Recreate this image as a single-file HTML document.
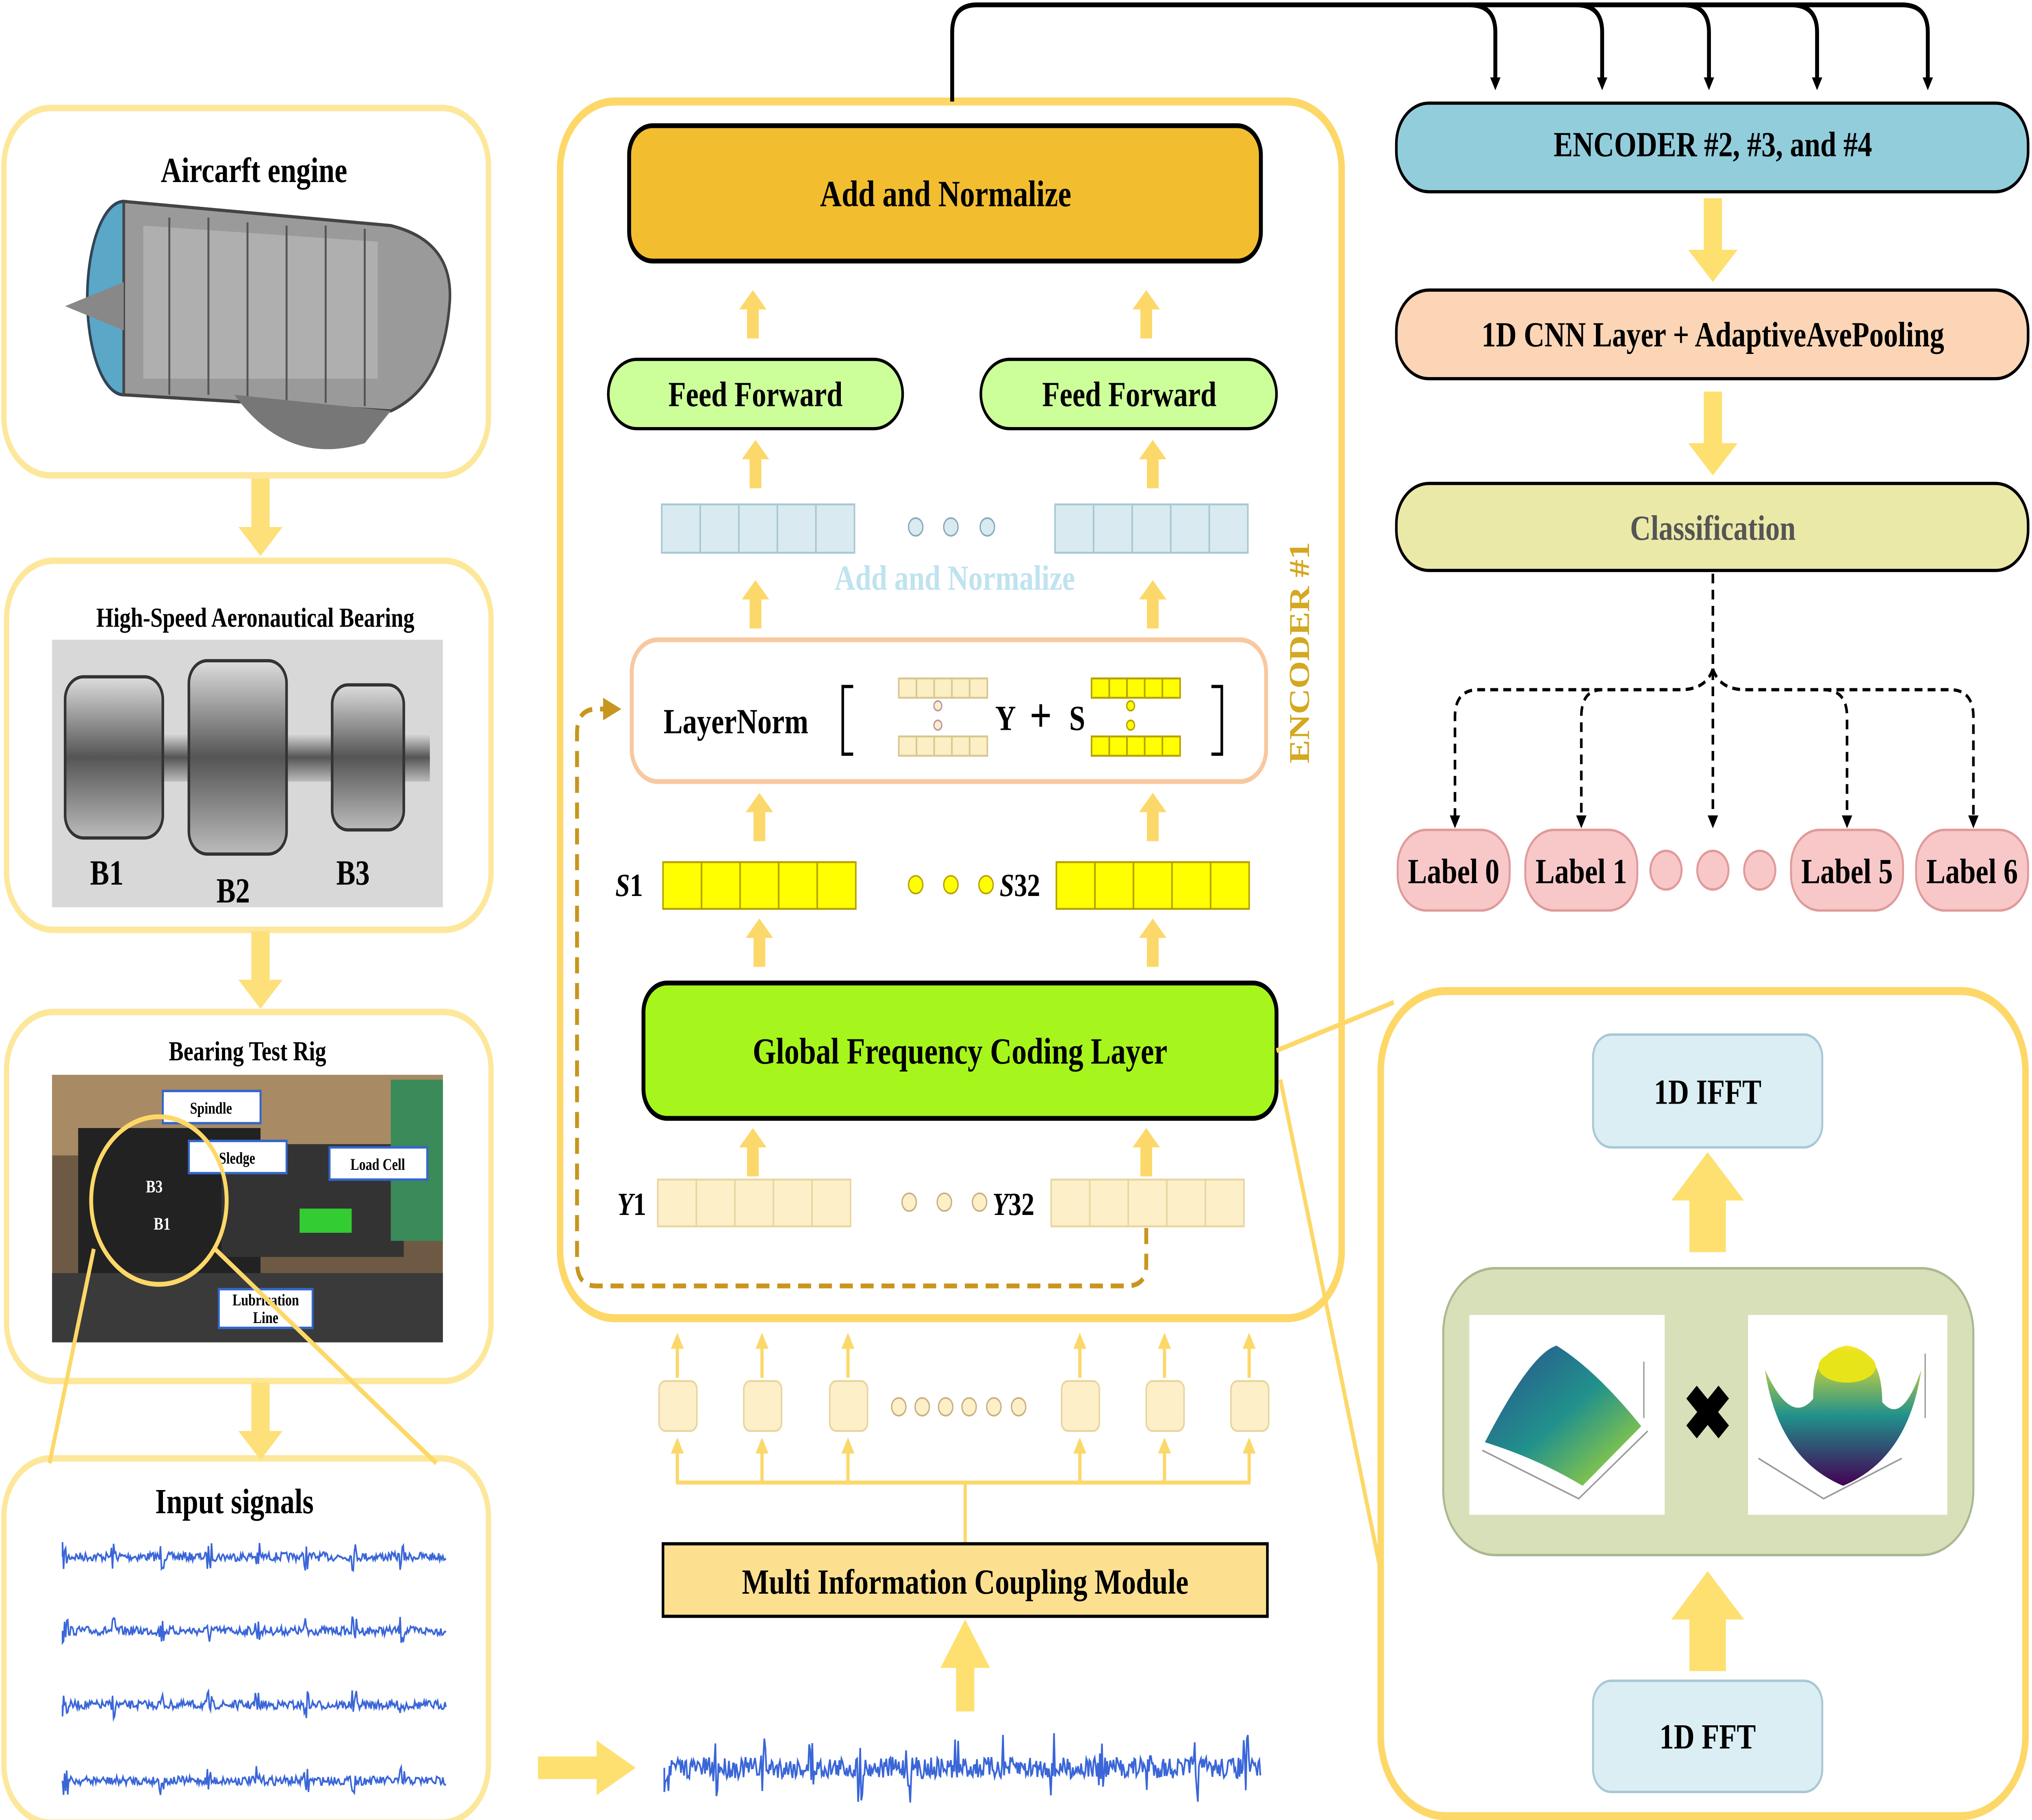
<!DOCTYPE html>
<html><head><meta charset="utf-8">
<style>
html,body{margin:0;padding:0;background:#fff;width:100%;height:100%;overflow:hidden;}
svg{display:block;width:100vw;height:100vh;}
text{font-family:"Liberation Serif",serif;font-weight:bold;}
</style></head>
<body>
<svg id="s" xmlns="http://www.w3.org/2000/svg" viewBox="0 0 1560 1129.4" preserveAspectRatio="none">
<defs>
<marker id="ab" markerWidth="8" markerHeight="8" refX="4" refY="4" orient="auto" markerUnits="userSpaceOnUse" viewBox="0 0 8 8"><path d="M0,0 L8,4 L0,8 Z" fill="#000"/></marker>
<marker id="ay" markerWidth="10" markerHeight="10" refX="5" refY="5" orient="auto" markerUnits="userSpaceOnUse" viewBox="0 0 10 10"><path d="M0,0 L10,5 L0,10 Z" fill="#fcd86a"/></marker>
<marker id="ad" markerWidth="14" markerHeight="14" refX="7" refY="7" orient="auto" markerUnits="userSpaceOnUse" viewBox="0 0 14 14"><path d="M0,0 L14,7 L0,14 Z" fill="#c8961e"/></marker>
<linearGradient id="met" x1="0" y1="0" x2="0" y2="1"><stop offset="0" stop-color="#ddd"/><stop offset="0.5" stop-color="#555"/><stop offset="1" stop-color="#bbb"/></linearGradient>
<linearGradient id="sf1" x1="0" y1="0" x2="1" y2="1"><stop offset="0" stop-color="#2a4f8e"/><stop offset="0.5" stop-color="#21918c"/><stop offset="1" stop-color="#b5de2b"/></linearGradient>
<linearGradient id="sf2" x1="0" y1="0" x2="0" y2="1"><stop offset="0" stop-color="#fde725"/><stop offset="0.5" stop-color="#21918c"/><stop offset="1" stop-color="#440154"/></linearGradient>
</defs>

<!-- LEFT COLUMN -->
<g fill="#fff" stroke="#fde79a" stroke-width="4">
<rect x="3" y="67" width="372" height="228" rx="36"/>
<rect x="5" y="348" width="372" height="229" rx="36"/>
<rect x="5" y="628" width="372" height="229" rx="36"/>
<rect x="3" y="905" width="372" height="226" rx="36"/>
</g>
<g fill="#fde07a">
<path d="M193,297 h14 v30 h10 l-17,18 l-17,-18 h10 Z"/>
<path d="M193,578 h14 v30 h10 l-17,18 l-17,-18 h10 Z"/>
<path d="M193,858 h14 v30 h10 l-17,18 l-17,-18 h10 Z"/>
</g>
<text x="195" y="113" font-size="22" text-anchor="middle">Aircarft engine</text>
<g>
<ellipse cx="95" cy="185" rx="28" ry="60" fill="#5aa7c8" stroke="#345" stroke-width="2"/>
<path d="M95,125 L300,140 Q350,150 345,190 Q340,240 300,255 L95,245 Z" fill="#9a9a9a" stroke="#444" stroke-width="2"/>
<path d="M110,140 L290,150 L290,235 L110,235 Z" fill="#b8b8b8" opacity="0.7"/>
<g stroke="#555" stroke-width="1.5">
<line x1="130" y1="135" x2="130" y2="245"/><line x1="160" y1="135" x2="160" y2="245"/><line x1="190" y1="138" x2="190" y2="248"/><line x1="220" y1="140" x2="220" y2="250"/><line x1="250" y1="140" x2="250" y2="250"/><line x1="280" y1="142" x2="280" y2="252"/>
</g>
<path d="M50,190 L95,175 L95,205 Z" fill="#888"/>
<path d="M180,245 Q220,290 280,275 L300,255 Z" fill="#777"/>
</g>
<text x="196" y="389" font-size="17" text-anchor="middle">High-Speed Aeronautical Bearing</text>
<rect x="40" y="397" width="300" height="166" fill="#d8d8d8"/>
<rect x="60" y="455" width="270" height="30" fill="url(#met)"/>
<rect x="50" y="420" width="75" height="100" rx="14" fill="url(#met)" stroke="#333" stroke-width="2"/>
<rect x="145" y="410" width="75" height="120" rx="14" fill="url(#met)" stroke="#333" stroke-width="2"/>
<rect x="255" y="425" width="55" height="90" rx="12" fill="url(#met)" stroke="#333" stroke-width="2"/>
<text x="82" y="549" font-size="22" text-anchor="middle" fill="#000">B1</text>
<text x="179" y="560" font-size="22" text-anchor="middle" fill="#000">B2</text>
<text x="271" y="549" font-size="22" text-anchor="middle" fill="#000">B3</text>
<text x="190" y="658" font-size="17" text-anchor="middle">Bearing Test Rig</text>
<rect x="40" y="667" width="300" height="166" fill="#6e5a44"/>
<rect x="40" y="667" width="300" height="50" fill="#a88a64"/>
<rect x="60" y="700" width="140" height="100" fill="#222"/>
<rect x="170" y="710" width="140" height="70" fill="#333"/>
<rect x="230" y="750" width="40" height="15" fill="#3c3"/>
<rect x="40" y="790" width="300" height="43" fill="#3a3a3a"/>
<rect x="300" y="670" width="40" height="100" fill="#3a8a5a"/>
<g font-size="10">
<rect x="125" y="677" width="75" height="20" fill="#fff" stroke="#36c" stroke-width="1.5"/><text x="162" y="691" text-anchor="middle" font-weight="normal">Spindle</text>
<rect x="145" y="708" width="75" height="20" fill="#fff" stroke="#36c" stroke-width="1.5"/><text x="182" y="722" text-anchor="middle" font-weight="normal">Sledge</text>
<rect x="253" y="712" width="75" height="20" fill="#fff" stroke="#36c" stroke-width="1.5"/><text x="290" y="726" text-anchor="middle" font-weight="normal">Load Cell</text>
<rect x="168" y="800" width="72" height="24" fill="#fff" stroke="#36c" stroke-width="1.5"/><text x="204" y="810" text-anchor="middle" font-weight="normal">Lubrication</text><text x="204" y="821" text-anchor="middle" font-weight="normal">Line</text>
<text x="112" y="740" fill="#fff" font-size="11">B3</text><text x="118" y="763" fill="#fff" font-size="11">B1</text>
</g>
<circle cx="122" cy="745" r="52" fill="none" stroke="#fdd868" stroke-width="3"/>
<line x1="72" y1="775" x2="38" y2="908" stroke="#fdd868" stroke-width="3"/>
<line x1="165" y1="775" x2="335" y2="908" stroke="#fdd868" stroke-width="3"/>
<text x="180" y="939" font-size="22" text-anchor="middle">Input signals</text>
<g id="sigs" fill="none" stroke="#3a66d8" stroke-width="1.2"></g>

<!-- ENCODER #1 -->
<rect x="430" y="63" width="600" height="755" rx="42" fill="none" stroke="#fdd868" stroke-width="5"/>
<path d="M731,63 V20 Q731,3 750,3 H1460 Q1480,3 1480,20 V52" fill="none" stroke="#000" stroke-width="3" marker-end="url(#ab)"/>
<g fill="none" stroke="#000" stroke-width="3">
<path d="M1128,3 Q1148,3 1148,20 V52" marker-end="url(#ab)"/>
<path d="M1210,3 Q1230,3 1230,20 V52" marker-end="url(#ab)"/>
<path d="M1292,3 Q1312,3 1312,20 V52" marker-end="url(#ab)"/>
<path d="M1375,3 Q1395,3 1395,20 V52" marker-end="url(#ab)"/>
</g>
<rect x="483" y="78" width="485" height="84" rx="18" fill="#f2be30" stroke="#000" stroke-width="3"/>
<text x="726" y="128" font-size="23" text-anchor="middle">Add and Normalize</text>
<g fill="#fcd86a" id="smallarrows"></g>
<rect x="467" y="223" width="226" height="43" rx="22" fill="#ccff99" stroke="#000" stroke-width="2"/>
<rect x="753" y="223" width="227" height="43" rx="22" fill="#ccff99" stroke="#000" stroke-width="2"/>
<text x="580" y="252" font-size="22" text-anchor="middle">Feed Forward</text>
<text x="867" y="252" font-size="22" text-anchor="middle">Feed Forward</text>
<text x="733" y="366" font-size="22" text-anchor="middle" fill="#bfe3ef">Add and Normalize</text>
<rect x="485" y="397" width="487" height="88" rx="20" fill="#fff" stroke="#f8c8a0" stroke-width="3"/>
<g id="cells"></g>
<text x="565" y="455" font-size="22" text-anchor="middle">LayerNorm</text>
<path d="M655,426 H647 V468 H655" fill="none" stroke="#000" stroke-width="2"/>
<path d="M930,426 H938 V468 H930" fill="none" stroke="#000" stroke-width="2"/>
<text x="772" y="453" font-size="22" text-anchor="middle">Y</text>
<text x="799" y="454" font-size="30" text-anchor="middle">+</text>
<text x="827" y="453" font-size="22" text-anchor="middle">S</text>
<text x="1005" y="405" font-size="22" text-anchor="middle" fill="#d4a820" transform="rotate(-90 1005 405)">ENCODER #1</text>
<text x="483" y="556" font-size="20" font-weight="normal" text-anchor="middle"><tspan font-style="italic">S</tspan>1</text>
<text x="783" y="556" font-size="20" font-weight="normal" text-anchor="middle"><tspan font-style="italic">S</tspan>32</text>
<rect x="494" y="610" width="486" height="84" rx="18" fill="#a6f51c" stroke="#000" stroke-width="3"/>
<text x="737" y="660" font-size="23" text-anchor="middle">Global Frequency Coding Layer</text>
<text x="485" y="754" font-size="20" font-weight="normal" text-anchor="middle"><tspan font-style="italic">Y</tspan>1</text>
<text x="778" y="754" font-size="20" font-weight="normal" text-anchor="middle"><tspan font-style="italic">Y</tspan>32</text>
<path d="M880,762 V785 Q880,798 865,798 H458 Q443,798 443,783 V455 Q443,440 458,440 H470" fill="none" stroke="#c8961e" stroke-width="3" stroke-dasharray="10,6" marker-end="url(#ad)"/>

<g id="inputs"></g>
<rect x="509" y="958" width="464" height="45" fill="#fde08f" stroke="#000" stroke-width="2"/>
<text x="741" y="989" font-size="22" text-anchor="middle">Multi Information Coupling Module</text>
<path d="M734,1062 V1035 H722 L741,1005 L760,1035 H748 V1062 Z" fill="#fde070"/>
<path d="M413,1090 H458 V1080 L488,1097 L458,1114 V1104 H413 Z" fill="#fde070"/>
<g id="bigsig" fill="none" stroke="#3a66d8" stroke-width="1.3"></g>

<!-- RIGHT -->
<rect x="1072" y="64" width="485" height="55" rx="25" fill="#92cddc" stroke="#000" stroke-width="2"/>
<text x="1315" y="97" font-size="22" text-anchor="middle">ENCODER #2, #3, and #4</text>
<path d="M1308,123 H1322 V155 H1334 L1315,175 L1296,155 H1308 Z" fill="#fde070"/>
<rect x="1072" y="180" width="485" height="55" rx="25" fill="#fbd5b5" stroke="#000" stroke-width="2"/>
<text x="1315" y="215" font-size="22" text-anchor="middle">1D CNN Layer + AdaptiveAvePooling</text>
<path d="M1308,243 H1322 V275 H1334 L1315,295 L1296,275 H1308 Z" fill="#fde070"/>
<rect x="1072" y="300" width="485" height="54" rx="25" fill="#ebe9a8" stroke="#000" stroke-width="2"/>
<text x="1315" y="335" font-size="22" text-anchor="middle" fill="#555">Classification</text>
<g fill="none" stroke="#000" stroke-width="2" stroke-dasharray="6,4">
<path d="M1315,356 V510" marker-end="url(#ab)"/>
<path d="M1315,415 Q1310,428 1290,428 H1135 Q1117,428 1117,445 V510" marker-end="url(#ab)"/>
<path d="M1230,428 Q1214,428 1214,445 V510" marker-end="url(#ab)"/>
<path d="M1315,415 Q1320,428 1340,428 H1497 Q1515,428 1515,445 V510" marker-end="url(#ab)"/>
<path d="M1400,428 Q1418,428 1418,445 V510" marker-end="url(#ab)"/>
</g>
<g fill="#f8c8c8" stroke="#e09a9a" stroke-width="1.5">
<rect x="1073" y="515" width="86" height="50" rx="22"/>
<rect x="1171" y="515" width="86" height="50" rx="22"/>
<rect x="1375" y="515" width="86" height="50" rx="22"/>
<rect x="1471" y="515" width="86" height="50" rx="22"/>
<circle cx="1279" cy="540" r="12"/><circle cx="1315" cy="540" r="12"/><circle cx="1351" cy="540" r="12"/>
</g>
<g font-size="22" text-anchor="middle">
<text x="1116" y="548">Label 0</text><text x="1214" y="548">Label 1</text><text x="1418" y="548">Label 5</text><text x="1514" y="548">Label 6</text>
</g>
<rect x="1060" y="615" width="495" height="512" rx="50" fill="none" stroke="#fdd868" stroke-width="5"/>
<line x1="980" y1="652" x2="1070" y2="622" stroke="#fdd868" stroke-width="3"/>
<line x1="983" y1="670" x2="1060" y2="975" stroke="#fdd868" stroke-width="3"/>
<rect x="1223" y="642" width="176" height="70" rx="14" fill="#dbeef4" stroke="#a8c8d4" stroke-width="1.5"/>
<text x="1311" y="685" font-size="22" text-anchor="middle">1D IFFT</text>
<path d="M1297,777 V745 H1283 L1311,715 L1339,745 H1325 V777 Z" fill="#fde070"/>
<rect x="1108" y="787" width="407" height="178" rx="40" fill="#d7e0b8" stroke="#a9b890" stroke-width="1.5"/>
<rect x="1128" y="816" width="150" height="124" fill="#fff"/>
<rect x="1342" y="816" width="153" height="124" fill="#fff"/>
<path d="M1140,895 Q1175,840 1195,835 Q1225,850 1260,885 L1215,922 Q1180,905 1140,895 Z" fill="url(#sf1)"/>
<path d="M1138,900 L1212,930 L1265,888 M1262,845 L1262,880" fill="none" stroke="#999" stroke-width="1"/>
<path d="M1355,850 Q1365,905 1415,922 Q1465,905 1475,850 Q1460,885 1445,870 Q1445,838 1418,835 Q1392,838 1392,868 Q1375,885 1355,850 Z" fill="url(#sf2)"/>
<ellipse cx="1418" cy="848" rx="22" ry="10" fill="#e7e419"/>
<path d="M1350,905 L1400,930 L1460,905 M1478,840 L1478,880" fill="none" stroke="#999" stroke-width="1"/>
<text x="1311" y="893" font-size="46" text-anchor="middle" font-family="Liberation Sans">✖</text>
<path d="M1297,1037 V1005 H1283 L1311,975 L1339,1005 H1325 V1037 Z" fill="#fde070"/>
<rect x="1223" y="1043" width="176" height="69" rx="14" fill="#dbeef4" stroke="#a8c8d4" stroke-width="1.5"/>
<text x="1311" y="1085" font-size="22" text-anchor="middle">1D FFT</text>
</svg>
<script>
(function(){
var NS="http://www.w3.org/2000/svg";
function el(p,t,a){var e=document.createElementNS(NS,t);for(var k in a)e.setAttribute(k,a[k]);p.appendChild(e);return e;}
var seed=7;function r(){seed=(seed*16807)%2147483647;return seed/2147483647;}
function sig(g,x0,x1,y,amp){var d="M"+x0+","+y;for(var x=x0;x<=x1;x+=0.8){var b=((x-x0)%37<4)?amp:amp*0.3;d+=" L"+x.toFixed(1)+","+(y+(r()-0.5)*2*b).toFixed(1);}el(g,"path",{d:d});}
var g=document.getElementById("sigs");[966,1012,1058,1105].forEach(function(y){sig(g,48,343,y,9);});
sig(document.getElementById("bigsig"),510,968,1097,22);
var sa=document.getElementById("smallarrows");
function up(x,y1,y2){var w=9,h=12;el(sa,"path",{d:"M"+(x-w/2)+","+y2+" V"+(y1+h)+" H"+(x-w/2-6)+" L"+x+","+y1+" L"+(x+w/2+6)+","+(y1+h)+" H"+(x+w/2)+" V"+y2+" Z"});}
[[578,880,180,210],[580,885,273,303],[580,885,360,390],[583,885,492,522],[583,885,570,600],[578,880,700,730]].forEach(function(a){up(a[0],a[2],a[3]);up(a[1],a[2],a[3]);});
var c=document.getElementById("cells");
function row(x,y,w,h,n,f,s){for(var i=0;i<n;i++)el(c,"rect",{x:x+i*w,y:y,width:w,height:h,fill:f,stroke:s,"stroke-width":1.2});}
function dots(xs,y,rr,f,s){xs.forEach(function(x){el(c,"circle",{cx:x,cy:y,r:rr,fill:f,stroke:s,"stroke-width":1});});}
row(508,313,29.6,30,5,"#d9ebf0","#a8c8d4");row(810,313,29.6,30,5,"#d9ebf0","#a8c8d4");dots([703,730,758],327,5.5,"#d9ebf0","#8ab");
row(690,421,13.6,12,5,"#fcefc6","#d8c890");row(690,457,13.6,12,5,"#fcefc6","#d8c890");dots([720],438,3,"#fcefc6","#b9a");dots([720],450,3,"#fcefc6","#b9a");
row(838,421,13.6,12,5,"#ffff00","#b8a000");row(838,457,13.6,12,5,"#ffff00","#b8a000");dots([868],438,3,"#ffff00","#b8a000");dots([868],450,3,"#ffff00","#b8a000");
row(509,535,29.6,29,5,"#ffff00","#b8a000");row(811,535,29.6,29,5,"#ffff00","#b8a000");dots([703,730,757],549,5.5,"#ffff00","#b8a000");
row(505,732,29.6,29,5,"#fdefc8","#e8d6a0");row(807,732,29.6,29,5,"#fdefc8","#e8d6a0");dots([698,725,752],746,5.5,"#fdefc8","#c8b080");
var inp=document.getElementById("inputs");
[520,585,651,829,894,959].forEach(function(x){
 el(inp,"line",{x1:x,y1:855,x2:x,y2:832,stroke:"#fcd86a","stroke-width":2.5,"marker-end":"url(#ay)"});
 el(inp,"rect",{x:x-14,y:857,width:29,height:31,rx:5,fill:"#fdefc8",stroke:"#e8d6a0","stroke-width":1.2});
 el(inp,"line",{x1:x,y1:920,x2:x,y2:897,stroke:"#fcd86a","stroke-width":2.5,"marker-end":"url(#ay)"});
});
el(inp,"line",{x1:519,y1:920,x2:960,y2:920,stroke:"#fcd86a","stroke-width":2.5});
el(inp,"line",{x1:741,y1:920,x2:741,y2:957,stroke:"#fcd86a","stroke-width":2.5});
[690,708,726,744,763,782].forEach(function(x){el(inp,"circle",{cx:x,cy:873,r:5.5,fill:"#fdefc8",stroke:"#c8b080","stroke-width":1});});
})();
</script>
</body></html>
